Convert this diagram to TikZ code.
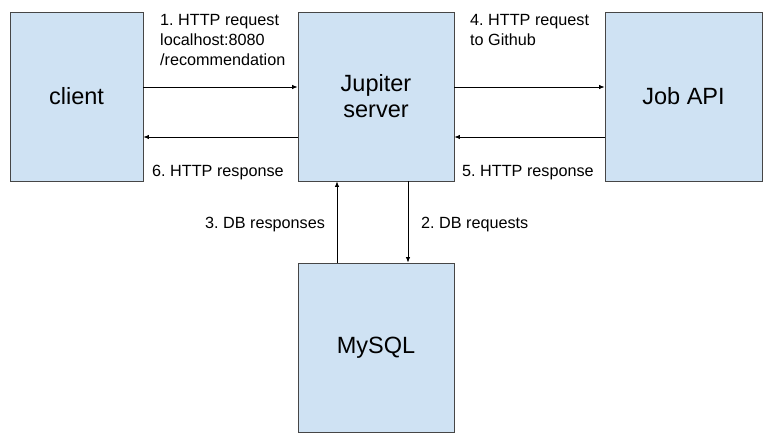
\documentclass[tikz,border=0pt]{standalone}
\usepackage{fontspec}
\setmainfont{Liberation Sans}
\usepackage{tikz}
\usetikzlibrary{arrows.meta}
\usetikzlibrary{positioning}
\definecolor{boxfill}{RGB}{207,226,243}
\definecolor{boxline}{RGB}{70,70,70}
\frenchspacing

\begin{document}
\begin{tikzpicture}[
x=1pt,y=-1pt,
MyBoxes/.style={draw=boxline,fill=boxfill,line width=0.9pt,inner sep=0pt,align=center,font=\fontsize{23.5}{26}\selectfont},
MyArrows/.style={draw=black,line width=0.8pt,-{Latex[length=5.5pt,width=4.5pt]}},
MyLabels/.style={inner sep=0pt,align=left,anchor=north west,font=\fontsize{16.2}{20}\selectfont}
]
\useasboundingbox (0,0) rectangle (776,444);

\node[MyBoxes,minimum width=133pt,minimum height=169pt] (client) at (76.5,96.5) {client};
\node[MyBoxes,minimum width=156pt,minimum height=169pt] (jupiter) at (376,96.5) {Jupiter\\server};
\node[MyBoxes,minimum width=157pt,minimum height=169pt] (jobapi) at (683.5,96.5) {Job API};
\node[MyBoxes,minimum width=156pt,minimum height=169pt] (mysql) at (376,347.5) {MySQL};

\draw[MyArrows] ([yshift=9.5pt]client.east) -- ([yshift=9.5pt]jupiter.west);
\draw[MyArrows] ([yshift=-40.5pt]jupiter.west) -- ([yshift=-40.5pt]client.east);
\draw[MyArrows] ([yshift=9.5pt]jupiter.east) -- ([yshift=9.5pt]jobapi.west);
\draw[MyArrows] ([yshift=-40.5pt]jobapi.west) -- ([yshift=-40.5pt]jupiter.east);
\draw[MyArrows] ([xshift=32pt]jupiter.south) -- ([xshift=32pt]mysql.north);
\draw[MyArrows] ([xshift=-39pt]mysql.north) -- ([xshift=-39pt]jupiter.south);

\node[MyLabels] (req) at (160,14) {1. HTTP request\\localhost:8080\\/recommendation};
\node[MyLabels] (resp) at (152,165) {6. HTTP response};
\node[MyLabels] (ghreq) at (470,14) {4. HTTP request\\to Github};
\node[MyLabels] (ghresp) at (462,165) {5. HTTP response};
\node[MyLabels] (dbresp) at (205,217) {3. DB responses};
\node[MyLabels] (dbreq) at (421,217) {2. DB requests};

\end{tikzpicture}
\end{document}
